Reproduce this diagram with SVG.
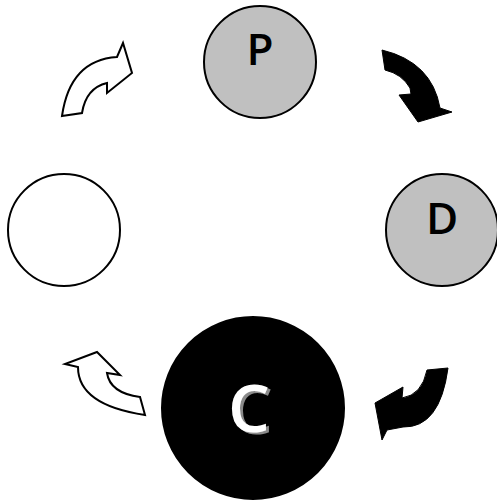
<svg xmlns="http://www.w3.org/2000/svg" width="497" height="501" viewBox="0 0 497 501">
<style>
.node{stroke:#000;stroke-width:2}
.lbl{font-family:"Open Sans","Noto Sans",sans-serif;text-anchor:middle}
.wa{fill:#fff;stroke:#000;stroke-width:2;stroke-linejoin:miter}
.ba{fill:#000;stroke:#000;stroke-width:1}
</style>
<defs>
<filter id="shadow" x="-20%" y="-20%" width="150%" height="150%">
<feOffset in="SourceAlpha" dx="3" dy="2" result="o"/>
<feFlood flood-color="#8a8a8a"/>
<feComposite in2="o" operator="in" result="s"/>
<feMerge><feMergeNode in="s"/><feMergeNode in="SourceGraphic"/></feMerge>
</filter>
</defs>
<rect width="497" height="501" fill="#fff"/>
<g id="node-P">
<circle class="node" cx="260" cy="62" r="56" fill="#c0c0c0"/>
<text class="lbl" x="260" y="65" font-size="44" font-weight="600">P</text>
</g>
<g id="node-D">
<circle class="node" cx="442" cy="230" r="56" fill="#c0c0c0"/>
<text class="lbl" x="442" y="234" font-size="44" font-weight="600">D</text>
</g>
<g id="node-empty">
<circle class="node" cx="64" cy="230" r="56" fill="#fff"/>
</g>
<g id="node-C">
<circle class="node" cx="253" cy="408" r="91" fill="#000"/>
<text class="lbl" x="249" y="432" font-size="66" font-weight="600" fill="#fff" filter="url(#shadow)">C</text>
</g>
<g id="connectors">
<path class="ba" d="M382,50 L385,70 Q402,74 410,88 L411,94 L399,95 L418,122 L452,112 L440,108 Q432,62 382,50 Z"/>
<path class="wa" d="M62,116 L82,113 Q86,88 107,83 L107,93 L132,73 L123,43 L117,57 Q70,60 62,116 Z"/>
<path class="wa" d="M145,415 L140,397 Q110,393 107,373 L120,375 L97,352 L65,364 L78,367 Q78,405 145,415 Z"/>
<path class="ba" d="M427,370 L448,368 Q440,428 403,427 L387,430 L382,440 L375,403 L403,387 L402,398 Q422,395 427,370 Z"/>
</g>
</svg>
